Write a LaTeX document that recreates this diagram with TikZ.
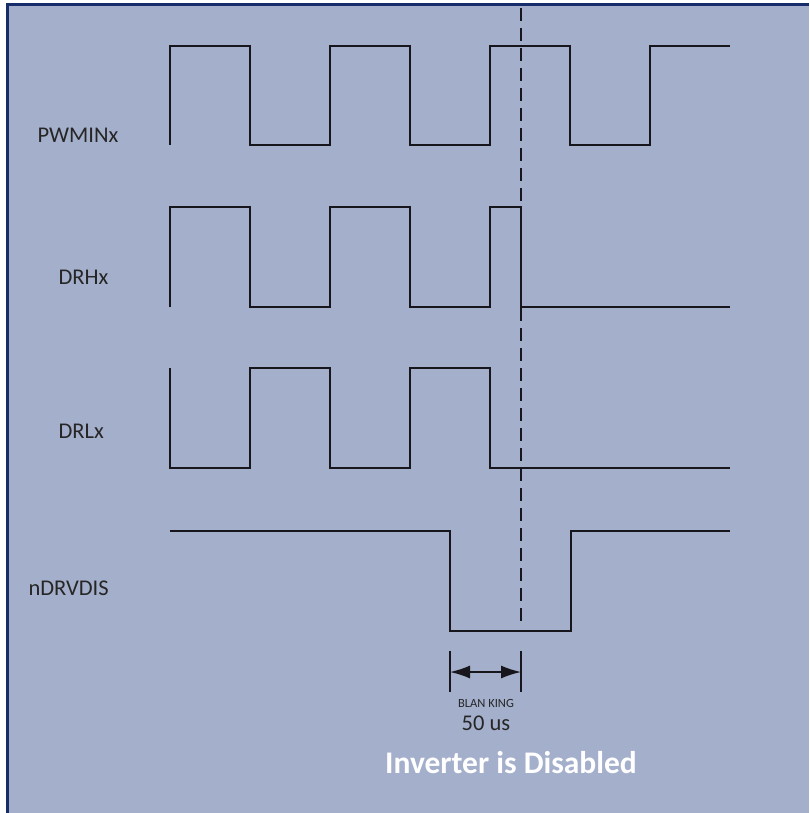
\documentclass[tikz,border=0pt]{standalone}
\usepackage{fontspec}
\setmainfont{Carlito}
\usetikzlibrary{arrows.meta}
\definecolor{panel}{RGB}{164,175,203}
\definecolor{rim}{RGB}{22,45,105}
\definecolor{trace}{RGB}{22,22,28}

\begin{document}
\begin{tikzpicture}[x=1pt, y=-1pt,
  sig/.style={draw=trace, line width=2pt, line join=miter},
  lab/.style={font=\fontsize{22.5}{26}\selectfont, text=black!85, anchor=base west},
  note/.style={font=\fontsize{22.5}{26}\selectfont, text=black!85, anchor=base},
  tiny/.style={font=\fontsize{12.5}{14}\selectfont, text=black!85, anchor=base},
  banner/.style={font=\bfseries\fontsize{31.5}{34}\selectfont, text=white, anchor=base}]
\useasboundingbox (0,0) rectangle (809,813);
\fill[panel] (7,5) rectangle (809,813);
\draw[rim, line width=3pt] (7,813) -- (7,5) -- (809,5);
% signal names
\node[lab] (pwm) at (34,143) {PWMINx};
\node[lab] (drh) at (55,284) {DRHx};
\node[lab] (drl) at (55,438) {DRLx};
\node[lab] (dis) at (25,595) {nDRVDIS};
% waveforms
\draw[sig] (170,145) -- (170,46) -- (250,46) -- (250,145) -- (330,145) -- (330,46) -- (410,46) -- (410,145)
  -- (490,145) -- (490,46) -- (570,46) -- (570,145) -- (650,145) -- (650,46) -- (730,46);
\draw[sig] (170,307) -- (170,207) -- (250,207) -- (250,307) -- (330,307) -- (330,207) -- (410,207) -- (410,307)
  -- (490,307) -- (490,207) -- (521,207) -- (521,307) -- (730,307);
\draw[sig] (170,368) -- (170,468) -- (250,468) -- (250,368) -- (330,368) -- (330,468) -- (410,468) -- (410,368)
  -- (490,368) -- (490,468) -- (730,468);
\draw[sig] (170,531) -- (450,531) -- (450,631) -- (571,631) -- (571,531) -- (730,531);
% fault instant
\draw[trace, line width=2pt, dash pattern=on 13pt off 7pt] (521,8) -- (521,628);
% blanking window
\coordinate (b1) at (450,672);
\coordinate (b2) at (521,672);
\draw[trace, line width=1.6pt] (450,651) -- (450,692);
\draw[trace, line width=1.6pt] (521,651) -- (521,692);
\draw[trace, line width=1.6pt, {Latex[length=20pt, width=13pt]}-{Latex[length=20pt, width=13pt]}] (b1) -- (b2);
\node[tiny] (blank) at (486,707) {BLAN KING};
\node[note] (time) at (486,730) {50 us};
\node[banner] (msg) at (511,773) {Inverter is Disabled};
\end{tikzpicture}
\end{document}
